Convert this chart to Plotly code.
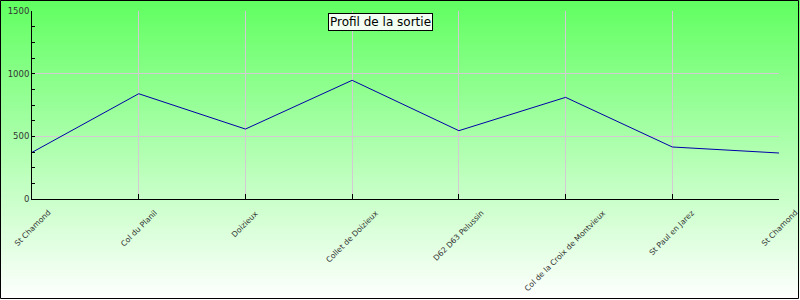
import plotly.graph_objects as go

categories = ["St Chamond", "Col du Planil", "Doizieux", "Collet de Doizieux",
              "D62 D63 Pelussin", "Col de la Croix de Montvieux",
              "St Paul en Jarez", "St Chamond"]
altitudes = [372, 840, 558, 947, 545, 811, 415, 367]
y_ticks = [0, 500, 1000, 1500]
title_text = "Profil de la sortie"

W, H = 800, 300
ML, MR, MT, MB = 32, 21, 11, 101
PW, PH = W - ML - MR, H - MT - MB

def px_to_paper_x(px):
    return (px - ML) / PW

def px_to_paper_y(py):
    return 1 - (py - MT) / PH

x_idx = list(range(len(categories)))

fig = go.Figure()
fig.add_trace(go.Scatter(
    x=x_idx, y=altitudes, mode="lines",
    line=dict(color="#0000a8", width=1),
    hoverinfo="skip", showlegend=False,
))

shapes = []
# vertical gradient background (green at top to white at bottom)
n = 100
top = (96, 255, 96)
bot = (255, 255, 255)
for i in range(n):
    t = (i + 0.5) / n
    c = tuple(round(top[k] + (bot[k] - top[k]) * t) for k in range(3))
    y0 = H * i / n
    y1 = H * (i + 1) / n + 0.6
    shapes.append(dict(
        type="rect", xref="paper", yref="paper", layer="below",
        x0=px_to_paper_x(0), x1=px_to_paper_x(W),
        y0=px_to_paper_y(y1), y1=px_to_paper_y(y0),
        line=dict(width=0), fillcolor="rgb(%d,%d,%d)" % c,
    ))
# outer black frame
shapes.append(dict(
    type="rect", xref="paper", yref="paper", layer="above",
    x0=px_to_paper_x(0.5), x1=px_to_paper_x(W - 1.5),
    y0=px_to_paper_y(H - 1.5), y1=px_to_paper_y(0.5),
    line=dict(color="black", width=1), fillcolor="rgba(0,0,0,0)",
))

annotations = [dict(
    text=title_text, xref="paper", yref="paper",
    x=px_to_paper_x(380), y=px_to_paper_y(22),
    xanchor="center", yanchor="middle", showarrow=False,
    font=dict(family="DejaVu Sans", size=12, color="black"),
    bgcolor="#f2fff2", bordercolor="black", borderwidth=1, borderpad=1,
)]
# category labels: rotated, bounding box centred under each tick
for xi, name in zip(x_idx, categories):
    annotations.append(dict(
        text=name, xref="x", yref="paper", x=xi, y=px_to_paper_y(207),
        xanchor="center", yanchor="top", showarrow=False, textangle=-45,
        font=dict(family="DejaVu Sans", size=7.7, color="#333333"),
        borderpad=0,
    ))

fig.update_layout(
    width=W, height=H,
    margin=dict(l=ML, r=MR, t=MT, b=MB, pad=0, autoexpand=False),
    paper_bgcolor="white", plot_bgcolor="rgba(0,0,0,0)",
    font=dict(family="DejaVu Sans", color="#333333"),
    shapes=shapes,
    annotations=annotations,
    xaxis=dict(
        range=[0, len(categories) - 1], tickmode="array",
        tickvals=x_idx, showticklabels=False,
        showgrid=True, gridcolor="#d4cad4", gridwidth=1,
        showline=True, linecolor="black", linewidth=1,
        ticks="inside", ticklen=5, tickcolor="black",
        zeroline=False, fixedrange=True, automargin=False,
    ),
    yaxis=dict(
        range=[0, 1500], tickmode="array", tickvals=y_ticks,
        tickfont=dict(size=8.5, color="#333333"),
        ticklabelstandoff=0,
        showgrid=True, gridcolor="#d4cad4", gridwidth=1,
        showline=True, linecolor="black", linewidth=1,
        ticks="inside", ticklen=3, tickcolor="black",
        minor=dict(dtick=125, tick0=0, ticks="inside", ticklen=3,
                   tickcolor="black", showgrid=False),
        zeroline=False, fixedrange=True, automargin=False,
    ),
)

fig.write_html("out.html", config={"displayModeBar": False})
